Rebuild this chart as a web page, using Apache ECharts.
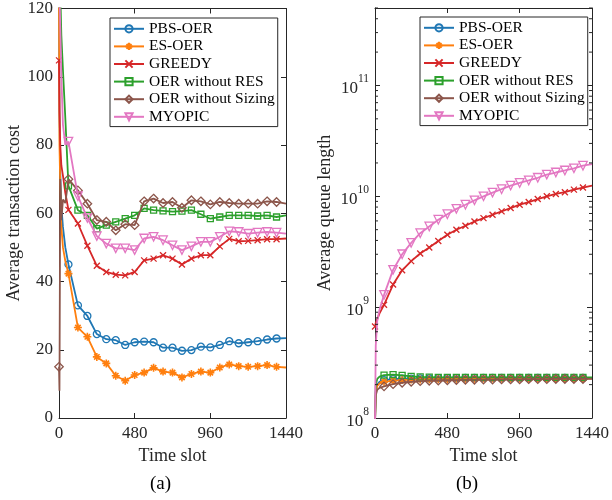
<!DOCTYPE html>
<html><head><meta charset="utf-8">
<script src="https://cdn.jsdelivr.net/npm/echarts@6/dist/echarts.min.js"></script>
<style>html,body{margin:0;padding:0;background:#fff}#c{width:612px;height:500px}</style>
</head><body><div id="c"></div>
<script>
// ---------- data ----------
const seriesNames = ['PBS-OER','ES-OER','GREEDY','OER without RES','OER without Sizing','MYOPIC'];
const seriesColors = ['#1f77b4','#ff7f0e','#d62728','#2ca02c','#8c564b','#e377c2'];

// (a) average transaction cost
const slotsA = [0,3,8,15,25,40,60,120,180,240,300,360,420,480,540,600,660,720,780,840,900,960,1020,1080,1140,1200,1260,1320,1380,1440];
const costPBS    = [124,90,72,62,56,50, 45,33,29.9,24.6,23.1,22.8,21.4,22.2,22.4,22.2,20.6,20.6,19.7,19.9,20.9,20.7,21.4,22.5,21.9,22.2,22.5,23.0,23.3,23.4];
const costES     = [123,80,68,56,50,46, 42.3,26.5,23.8,17.9,16.0,12.4,10.9,12.6,13.3,14.7,13.6,13.3,11.9,12.9,13.6,13.3,14.8,15.7,15.2,15.0,15.2,15.5,15.0,14.8];
const costGreedy = [104.8,90,80,74,71,66, 61,57,50.5,44.6,42.8,42.0,41.8,42.8,46.2,46.7,47.7,46.7,45.0,46.7,47.7,47.7,50.3,52.5,51.8,51.9,52.1,52.4,52.4,52.6];
const costNoRES  = [125,140,125,112,102,88, 68,60.9,59.4,55.5,56.5,57.5,58.4,59.4,61.4,60.9,60.7,60.5,60.6,60.9,59.7,58.4,58.9,59.4,59.4,59.4,59.2,59.4,58.9,59.4];
const costNoSize = [15,8,70,58,64,63, 70,66.7,62.8,58,57.5,55,56.8,56.5,63.5,64.3,63,63.3,61.6,63.8,63.5,62.6,63.3,63,62.8,62.8,62.8,63.5,63.3,62.8];
const costMyopic = [130,125,115,100,86,80, 81,65,58.6,53.3,51.1,49.7,49.7,49.2,52.6,53.1,52.1,50.6,49.2,50.3,51.6,51.6,53.1,54.7,54.5,54.0,54.3,54.5,54.3,54.0];

// (b) average queue length
const slotsB = [0,5,15,30,60,120,180,240,300,360,420,480,540,600,660,720,780,840,900,960,1020,1080,1140,1200,1260,1320,1380,1440];
const queuePBS    = [9e7,1.75e8,2.0e8,2.12e8, 2.2e8,2.24e8,2.26e8,2.27e8,2.28e8,2.28e8,2.29e8,2.29e8,2.29e8,2.3e8,2.3e8,2.3e8,2.3e8,2.3e8,2.3e8,2.3e8,2.3e8,2.3e8,2.3e8,2.3e8,2.3e8,2.3e8,2.3e8,2.3e8];
const queueES     = [9e7,1.7e8,1.95e8,2.05e8, 2.12e8,2.17e8,2.2e8,2.22e8,2.23e8,2.24e8,2.25e8,2.25e8,2.26e8,2.26e8,2.26e8,2.27e8,2.27e8,2.27e8,2.27e8,2.27e8,2.27e8,2.27e8,2.27e8,2.27e8,2.27e8,2.27e8,2.27e8,2.27e8];
const queueGreedy = [6.7e8,7.2e8,7.8e8,8.8e8, 1.05e9,1.6e9,2.15e9,2.6e9,3.05e9,3.45e9,3.95e9,4.5e9,4.99e9,5.42e9,5.93e9,6.36e9,6.82e9,7.31e9,7.84e9,8.4e9,8.88e9,9.45e9,1.0e10,1.05e10,1.09e10,1.15e10,1.2e10,1.25e10];
const queueNoRES  = [9e7,2.0e8,2.25e8,2.36e8, 2.44e8,2.46e8,2.42e8,2.37e8,2.35e8,2.34e8,2.33e8,2.33e8,2.33e8,2.33e8,2.33e8,2.33e8,2.33e8,2.33e8,2.33e8,2.33e8,2.33e8,2.33e8,2.33e8,2.33e8,2.33e8,2.33e8,2.33e8,2.33e8];
const queueNoSize = [9e7,1.6e8,1.8e8,1.87e8, 1.93e8,2.02e8,2.08e8,2.12e8,2.15e8,2.17e8,2.18e8,2.19e8,2.2e8,2.21e8,2.21e8,2.22e8,2.22e8,2.23e8,2.23e8,2.23e8,2.24e8,2.24e8,2.24e8,2.25e8,2.25e8,2.25e8,2.25e8,2.25e8];
const queueMyopic = [9e7,4.5e8,7.5e8,9.5e8, 1.29e9,2.17e9,3.0e9,3.8e9,4.65e9,5.35e9,6.15e9,6.9e9,7.7e9,8.4e9,9.2e9,1.0e10,1.08e10,1.16e10,1.25e10,1.32e10,1.39e10,1.47e10,1.57e10,1.64e10,1.71e10,1.79e10,1.89e10,1.95e10];

// ticks
const slotTicks = [0,480,960,1440];
const costTicks = [0,20,40,60,80,100,120];
const queueDecades = [8,9,10,11];
const queueMinorMultipliers = [2,3,4,5,6,7,8,9];
const queueTop = 5e11;
const markerStep = 60;

// ---------- chart ----------
const FONT = 'Liberation Serif';
const AX = '#262626';
const symbols = [
  {symbol:'circle', size:7, rot:0},
  {symbol:'path://M5,0L5,10M0,5L10,5M1.6,1.6L8.4,8.4M1.6,8.4L8.4,1.6', size:8, rot:0},
  {symbol:'path://M0,0L10,10M0,10L10,0', size:6, rot:0},
  {symbol:'rect', size:6, rot:0},
  {symbol:'diamond', size:8.5, rot:0},
  {symbol:'triangle', size:8.5, rot:180}
];
const costSets = [costPBS,costES,costGreedy,costNoRES,costNoSize,costMyopic];
const queueSets = [queuePBS,queueES,queueGreedy,queueNoRES,queueNoSize,queueMyopic];

function mkData(ts, vs) {
  return ts.map((t,i) => (t % markerStep === 0 && t < 1440) ? [t, vs[i]] : {value:[t, vs[i]], symbol:'none'});
}
function mkSeries(k, xi, yi, ts, vs) {
  const s = symbols[k];
  return {
    type:'line', name: seriesNames[k], xAxisIndex:xi, yAxisIndex:yi,
    data: mkData(ts, vs), symbol: s.symbol, symbolSize: s.size, symbolRotate: s.rot,
    showAllSymbol:true, clip:true, animation:false, z: 2 + k,
    lineStyle:{color: seriesColors[k], width:1.8},
    itemStyle:{color:'rgba(0,0,0,0)', borderColor: seriesColors[k], borderWidth: k===1 ? 1.6 : 1.3},
    emphasis:{disabled:true}
  };
}

const gridA = {left:59, top:8, width:227, height:410};
const gridB = {left:375, top:8, width:221, height:410};

function xAx(gi, pos, withLabels) {
  return {
    type:'value', gridIndex:gi, position:pos, min:0, max:1440, interval:480,
    axisLine:{show:true, onZero:false, lineStyle:{color:AX, width:1}},
    axisTick:{show:true, inside:true, length:5, lineStyle:{color:AX}},
    axisLabel:{show:withLabels, color:AX, fontFamily:FONT, fontSize:17, margin:7,
      formatter: v => slotTicks.includes(v) ? String(v) : ''},
    splitLine:{show:false},
    name: withLabels ? 'Time slot' : '', nameLocation:'middle', nameGap:28,
    nameTextStyle:{color:AX, fontFamily:FONT, fontSize:18}
  };
}
function yCost(pos, withLabels) {
  return {
    type:'value', gridIndex:0, position:pos, min:0, max:120, interval:20,
    axisLine:{show:true, onZero:false, lineStyle:{color:AX, width:1}},
    axisTick:{show:true, inside:true, length:5, lineStyle:{color:AX}},
    axisLabel:{show:withLabels, color:AX, fontFamily:FONT, fontSize:17, margin:6,
      formatter: v => costTicks.includes(v) ? String(v) : ''},
    splitLine:{show:false},
    name: withLabels ? 'Average transaction cost' : '', nameLocation:'middle', nameGap:36, nameRotate:90,
    nameTextStyle:{color:AX, fontFamily:FONT, fontSize:18}
  };
}
function yQueue(pos, withLabels) {
  return {
    type:'log', logBase:10, gridIndex:1, position:pos, min:1e8, max:queueTop,
    axisLine:{show:true, onZero:false, lineStyle:{color:AX, width:1}},
    axisTick:{show:true, inside:true, length:5, lineStyle:{color:AX}},
    axisLabel:{show:withLabels, color:AX, fontFamily:FONT, margin:6,
      formatter: v => {
        const e = Math.round(Math.log10(v));
        if (Math.abs(Math.log10(v) - e) > 1e-6 || !queueDecades.includes(e)) return '';
        return '{b|10}{s|' + e + '}';
      },
      rich:{b:{fontSize:17, fontFamily:FONT, color:AX, lineHeight:24, verticalAlign:'bottom'},
            s:{fontSize:11.5, fontFamily:FONT, color:AX, lineHeight:12, verticalAlign:'top'}}
    },
    splitLine:{show:false},
    name: withLabels ? 'Average queue length' : '', nameLocation:'middle', nameGap:41, nameRotate:90,
    nameTextStyle:{color:AX, fontFamily:FONT, fontSize:18}
  };
}

const minorVals = [];
queueDecades.forEach(e => queueMinorMultipliers.forEach(m => { const v = m * Math.pow(10, e); if (v <= queueTop) minorVals.push([0, v]); }));

const legendBase = {
  orient:'vertical', itemWidth:30, itemHeight:9, itemGap:0, selectedMode:false,
  backgroundColor:'#fff', borderColor:AX, borderWidth:1, borderRadius:0, padding:[2,3,1,3],
  textStyle:{fontFamily:FONT, fontSize:15.5, color:'#000', lineHeight:17.6},
  data: seriesNames
};

const series = [];
for (let k = 0; k < 6; k++) series.push(mkSeries(k, 0, 0, slotsA, costSets[k]));
for (let k = 0; k < 6; k++) series.push(mkSeries(k, 2, 2, slotsB, queueSets[k]));
series.push({
  type:'custom', xAxisIndex:2, yAxisIndex:2, data:minorVals, silent:true, z:20, animation:false,
  renderItem:(params, api) => {
    const p = api.coord([0, api.value(1)]);
    const cs = params.coordSys;
    const r = cs.x + cs.width;
    return {type:'group', children:[
      {type:'line', shape:{x1:cs.x, y1:p[1], x2:cs.x+3, y2:p[1]}, style:{stroke:AX, lineWidth:1}},
      {type:'line', shape:{x1:r, y1:p[1], x2:r-3, y2:p[1]}, style:{stroke:AX, lineWidth:1}}
    ]};
  }
});

const chart = echarts.init(document.getElementById('c'), null, {renderer:'canvas'});
chart.setOption({
  animation:false,
  backgroundColor:'#fff',
  grid:[gridA, gridB],
  xAxis:[xAx(0,'bottom',true), xAx(0,'top',false), xAx(1,'bottom',true), xAx(1,'top',false)],
  yAxis:[yCost('left',true), yCost('right',false), yQueue('left',true), yQueue('right',false)],
  legend:[
    Object.assign({}, legendBase, {left:110, top:18}),
    Object.assign({}, legendBase, {left:420, top:17})
  ],
  graphic:[
    {type:'text', left:150, top:475, style:{text:'(a)', font:'19px "Liberation Serif"', fill:'#000'}},
    {type:'text', left:456, top:475, style:{text:'(b)', font:'19px "Liberation Serif"', fill:'#000'}}
  ],
  series: series
});
</script></body></html>
